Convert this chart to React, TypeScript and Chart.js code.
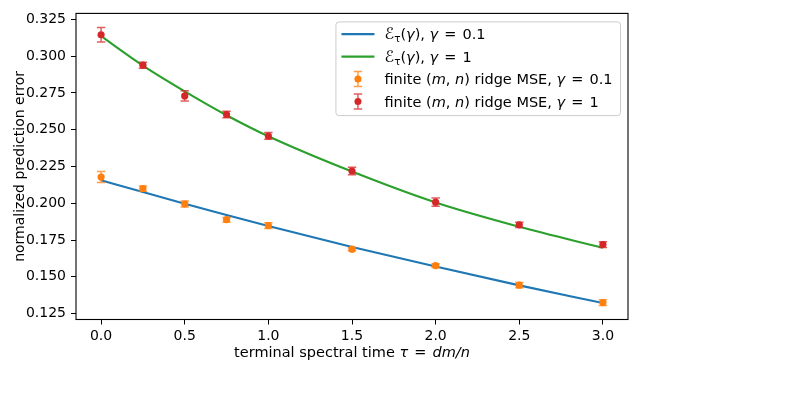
import { useEffect, useRef } from "react";
import { Chart, registerables } from "chart.js";

Chart.register(...registerables);

// Terminal spectral time grid (tau = dm/n)
const tau = [0, 0.25, 0.5, 0.75, 1.0, 1.5, 2.0, 2.5, 3.0];

// Asymptotic prediction error curves E_tau(gamma)
const theoryLow = [0.2156, 0.2076, 0.1997, 0.192, 0.1846, 0.1703, 0.157, 0.1442, 0.1322];
const theoryHigh = [0.3135, 0.2935, 0.276, 0.2598, 0.2455, 0.2215, 0.2005, 0.184, 0.1697];

// Finite (m, n) ridge MSE with standard errors
const mseLow = [0.2178, 0.21, 0.1995, 0.1888, 0.1848, 0.1688, 0.1576, 0.1443, 0.1325];
const errLow = [0.0037, 0.0018, 0.002, 0.0015, 0.002, 0.001, 0.0012, 0.0018, 0.002];
const mseHigh = [0.3145, 0.2938, 0.2729, 0.2603, 0.2457, 0.2219, 0.2007, 0.1853, 0.1719];
const errHigh = [0.005, 0.002, 0.0035, 0.0022, 0.0023, 0.0025, 0.0028, 0.0017, 0.002];

const xTicks = [0, 0.5, 1.0, 1.5, 2.0, 2.5, 3.0];
const yTicks = [0.125, 0.15, 0.175, 0.2, 0.225, 0.25, 0.275, 0.3, 0.325];

const BLUE = "#1f77b4";
const ORANGE = "#ff7f0e";
const GREEN = "#2ca02c";
const RED = "#d62728";
const FONT = '"DejaVu Sans", sans-serif';
const TEXT_SIZE = 14.5;

// A run of text with its own style; dx adds extra spacing after the run.
type Seg = { t: string; it?: boolean; sz?: number; dy?: number; dx?: number };

function setFont(ctx: CanvasRenderingContext2D, s: Seg, base: number) {
  ctx.font = `${s.it ? "italic " : ""}${s.sz ?? base}px ${FONT}`;
}

function segsWidth(ctx: CanvasRenderingContext2D, segs: Seg[], base: number) {
  let w = 0;
  for (const s of segs) {
    setFont(ctx, s, base);
    w += ctx.measureText(s.t).width + (s.dx ?? 0);
  }
  return w;
}

function drawSegs(ctx: CanvasRenderingContext2D, segs: Seg[], x: number, y: number, base: number) {
  ctx.textAlign = "left";
  ctx.textBaseline = "alphabetic";
  for (const s of segs) {
    setFont(ctx, s, base);
    ctx.fillText(s.t, x, y + (s.dy ?? 0));
    x += ctx.measureText(s.t).width + (s.dx ?? 0);
  }
}

// "γ = v" with relation spacing around the equals sign
const gammaEq = (v: string): Seg[] => [
  { t: "γ", it: true, dx: 1.5 },
  { t: " = ", dx: 1.5 },
  { t: v },
];

const legendItems: { kind: "line" | "err"; color: string; errColor?: string; segs: Seg[] }[] = [
  {
    kind: "line",
    color: BLUE,
    segs: [{ t: "ℰ", sz: 16 }, { t: "τ", sz: 10.5, dy: 3 }, { t: "(" }, { t: "γ", it: true }, { t: "), " }, ...gammaEq("0.1")],
  },
  {
    kind: "line",
    color: GREEN,
    segs: [{ t: "ℰ", sz: 16 }, { t: "τ", sz: 10.5, dy: 3 }, { t: "(" }, { t: "γ", it: true }, { t: "), " }, ...gammaEq("1")],
  },
  {
    kind: "err",
    color: ORANGE,
    errColor: "rgba(255,127,14,0.75)",
    segs: [{ t: "finite (" }, { t: "m", it: true }, { t: ", " }, { t: "n", it: true }, { t: ") ridge MSE, " }, ...gammaEq("0.1")],
  },
  {
    kind: "err",
    color: RED,
    errColor: "rgba(214,39,40,0.75)",
    segs: [{ t: "finite (" }, { t: "m", it: true }, { t: ", " }, { t: "n", it: true }, { t: ") ridge MSE, " }, ...gammaEq("1")],
  },
];

const errorSets: Record<number, { err: number[]; color: string }> = {
  2: { err: errLow, color: "rgba(255,127,14,0.75)" },
  3: { err: errHigh, color: "rgba(214,39,40,0.75)" },
};

function drawErrBar(ctx: CanvasRenderingContext2D, px: number, top: number, bot: number, color: string) {
  ctx.save();
  ctx.strokeStyle = color;
  ctx.lineWidth = 1.5;
  ctx.beginPath();
  ctx.moveTo(px, top);
  ctx.lineTo(px, bot);
  ctx.moveTo(px - 4.2, top);
  ctx.lineTo(px + 4.2, top);
  ctx.moveTo(px - 4.2, bot);
  ctx.lineTo(px + 4.2, bot);
  ctx.stroke();
  ctx.restore();
}

const errorBarPlugin = {
  id: "errorBars",
  beforeDatasetDraw(chart: any, args: any) {
    const set = errorSets[args.index];
    if (!set) return;
    const { ctx, scales } = chart;
    const data = chart.data.datasets[args.index].data as { x: number; y: number }[];
    data.forEach((p, i) => {
      const px = scales.x.getPixelForValue(p.x);
      const top = scales.y.getPixelForValue(p.y + set.err[i]);
      const bot = scales.y.getPixelForValue(p.y - set.err[i]);
      drawErrBar(ctx, px, top, bot, set.color);
    });
  },
};

const framePlugin = {
  id: "frameAndLabels",
  afterDraw(chart: any) {
    const { ctx, chartArea } = chart;
    const { left, right, top, bottom } = chartArea;
    ctx.save();

    // axes box
    ctx.strokeStyle = "#000";
    ctx.lineWidth = 1.1;
    ctx.strokeRect(left, top, right - left, bottom - top);

    // axis titles
    ctx.fillStyle = "#000";
    const xSegs: Seg[] = [
      { t: "terminal spectral time " },
      { t: "τ", it: true, dx: 1.5 },
      { t: " = ", dx: 1.5 },
      { t: "dm", it: true },
      { t: "/", it: true },
      { t: "n", it: true },
    ];
    const xw = segsWidth(ctx, xSegs, TEXT_SIZE);
    drawSegs(ctx, xSegs, (left + right) / 2 - xw / 2, bottom + 37, TEXT_SIZE);

    ctx.save();
    ctx.translate(24, (top + bottom) / 2);
    ctx.rotate(-Math.PI / 2);
    ctx.font = `14px ${FONT}`;
    ctx.textAlign = "center";
    ctx.textBaseline = "alphabetic";
    ctx.fillText("normalized prediction error", 0, 0);
    ctx.restore();

    // legend
    let maxW = 0;
    for (const it of legendItems) maxW = Math.max(maxW, segsWidth(ctx, it.segs, TEXT_SIZE));
    const boxRight = right - 8;
    const boxTop = top + 8;
    const textX = boxRight - 7.5 - maxW;
    const boxLeft = textX - 49;
    const rowGap = 22.5;
    const firstRow = boxTop + 12.7;
    const boxBottom = firstRow + rowGap * 3 + 13.5;

    ctx.beginPath();
    ctx.roundRect(boxLeft + 0.5, boxTop + 0.5, boxRight - boxLeft, boxBottom - boxTop, 3);
    ctx.fillStyle = "rgba(255,255,255,0.8)";
    ctx.fill();
    ctx.strokeStyle = "#cccccc";
    ctx.lineWidth = 1;
    ctx.stroke();

    legendItems.forEach((it, i) => {
      const cy = firstRow + rowGap * i;
      const hx0 = textX - 43;
      const hx1 = textX - 10;
      if (it.kind === "line") {
        ctx.strokeStyle = it.color;
        ctx.lineWidth = 2.1;
        ctx.beginPath();
        ctx.moveTo(hx0, cy);
        ctx.lineTo(hx1, cy);
        ctx.stroke();
      } else {
        const cx = (hx0 + hx1) / 2;
        drawErrBar(ctx, cx, cy - 7.5, cy + 7.5, it.errColor as string);
        ctx.fillStyle = it.color;
        ctx.beginPath();
        ctx.arc(cx, cy, 3.5, 0, Math.PI * 2);
        ctx.fill();
      }
      ctx.fillStyle = "#000";
      drawSegs(ctx, it.segs, textX, cy + 5, TEXT_SIZE);
    });

    ctx.restore();
  },
};

export default function App() {
  const canvasRef = useRef<HTMLCanvasElement | null>(null);

  useEffect(() => {
    const canvas = canvasRef.current;
    if (!canvas) return;
    const pts = (ys: number[]) => tau.map((t, i) => ({ x: t, y: ys[i] }));

    const chart = new Chart(canvas, {
      type: "line",
      data: {
        datasets: [
          {
            label: "theory γ=0.1",
            data: pts(theoryLow),
            borderColor: BLUE,
            borderWidth: 2.1,
            pointRadius: 0,
            cubicInterpolationMode: "monotone",
            fill: false,
            order: 1,
          },
          {
            label: "theory γ=1",
            data: pts(theoryHigh),
            borderColor: GREEN,
            borderWidth: 2.1,
            pointRadius: 0,
            cubicInterpolationMode: "monotone",
            fill: false,
            order: 1,
          },
          {
            label: "ridge MSE γ=0.1",
            data: pts(mseLow),
            showLine: false,
            pointRadius: 3.6,
            pointBorderWidth: 0,
            pointBackgroundColor: ORANGE,
            borderColor: ORANGE,
            order: 0,
          },
          {
            label: "ridge MSE γ=1",
            data: pts(mseHigh),
            showLine: false,
            pointRadius: 3.6,
            pointBorderWidth: 0,
            pointBackgroundColor: RED,
            borderColor: RED,
            order: 0,
          },
        ],
      },
      options: {
        responsive: false,
        animation: false,
        devicePixelRatio: 1,
        layout: { padding: { top: 7, right: 159, bottom: 0, left: 0 } },
        plugins: { legend: { display: false }, tooltip: { enabled: false } },
        scales: {
          x: {
            type: "linear",
            min: -0.15,
            max: 3.15,
            afterBuildTicks: (s: any) => {
              s.ticks = xTicks.map((v) => ({ value: v }));
            },
            afterFit: (s: any) => {
              s.height = 83.5;
            },
            ticks: {
              callback: (v: any) => Number(v).toFixed(1),
              font: { family: "DejaVu Sans", size: 14 },
              color: "#000",
              padding: 3,
              maxRotation: 0,
              autoSkip: false,
            },
            grid: { drawOnChartArea: false, drawTicks: true, tickLength: 5, color: "#000", lineWidth: 1 },
            border: { display: false },
          },
          y: {
            type: "linear",
            min: 0.121,
            max: 0.329,
            afterBuildTicks: (s: any) => {
              s.ticks = yTicks.map((v) => ({ value: v }));
            },
            afterFit: (s: any) => {
              s.width = 76;
            },
            ticks: {
              callback: (v: any) => Number(v).toFixed(3),
              font: { family: "DejaVu Sans", size: 14 },
              color: "#000",
              padding: 5,
              autoSkip: false,
            },
            grid: { drawOnChartArea: false, drawTicks: true, tickLength: 5, color: "#000", lineWidth: 1 },
            border: { display: false },
          },
        },
      },
      plugins: [errorBarPlugin, framePlugin],
    });

    return () => chart.destroy();
  }, []);

  return (
    <div style={{ position: "absolute", left: 0, top: 0, width: 787, height: 403, background: "#fff" }}>
      <canvas ref={canvasRef} width={787} height={403} />
    </div>
  );
}
